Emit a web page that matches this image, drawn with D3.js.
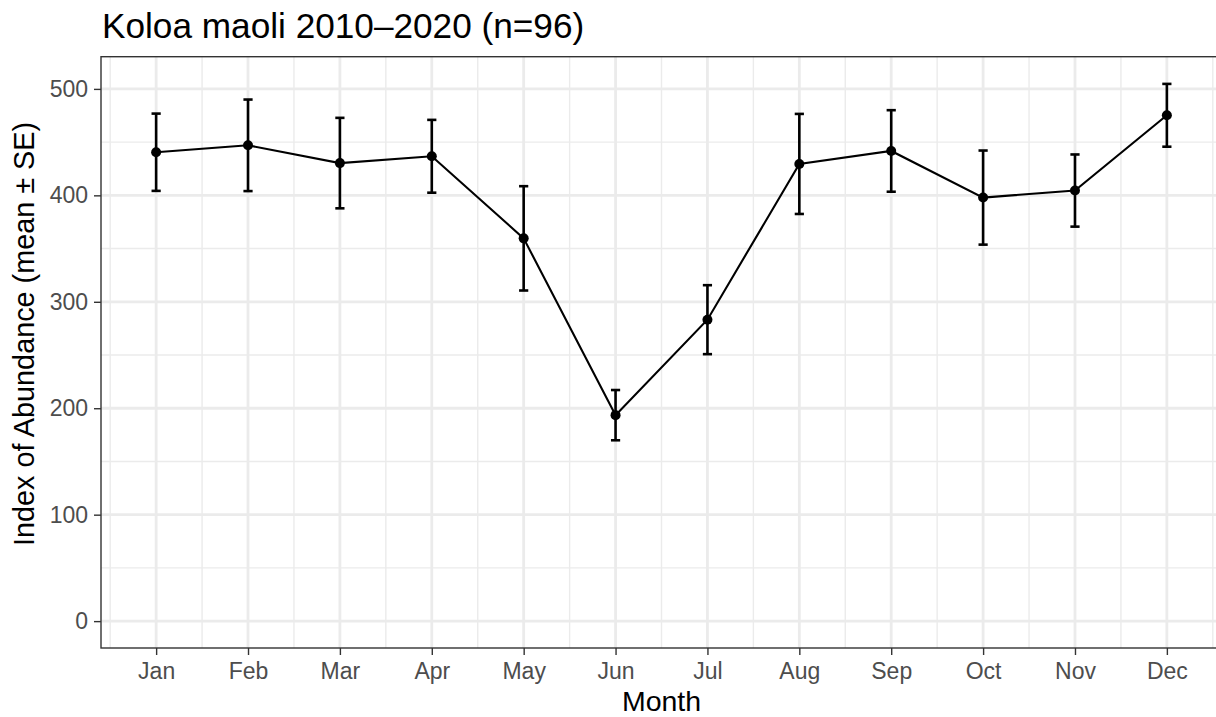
<!DOCTYPE html>
<html lang="en">
  <head>
    <meta charset="UTF-8" />
    <title>Koloa maoli 2010–2020</title>
    <script src="https://d3js.org/d3.v7.min.js"></script>
    <style>
      body { margin: 0; background: #fff; }
      svg { display: block; font-family: "Liberation Sans", Arial, sans-serif; }
    </style>
  </head>
  <body>
    <svg id="chart" width="1216" height="717"></svg>
    <script>
      // Data
      const months = ["Jan", "Feb", "Mar", "Apr", "May", "Jun", "Jul", "Aug", "Sep", "Oct", "Nov", "Dec"];
      const meanValues = [440.5, 447, 430.3, 436.7, 359.6, 193.5, 283.2, 429.5, 441.7, 397.9, 404.5, 475.2];
      const seValues = [36.3, 43, 42.5, 34.2, 49, 23.6, 32.4, 47, 38.3, 44.2, 33.9, 29.5];
      const yTicks = [0, 100, 200, 300, 400, 500];
      const yMinorTicks = [50, 150, 250, 350, 450];

      const svg = d3.select("#chart");

      // panel box (right side runs past the page edge, as in the original)
      const panel = { left: 101, right: 1222, top: 56.7, bottom: 648 };

      const data = months.map((m, i) => ({
        month: m,
        idx: i + 1,
        mean: meanValues[i],
        lo: meanValues[i] - seValues[i],
        hi: meanValues[i] + seValues[i]
      }));

      const x = d3.scaleLinear().domain([0.4, 12.6]).range([panel.left, panel.right]);
      const y = d3.scaleLinear().domain([-25.25, 530.25]).range([panel.bottom, panel.top]);

      const xMinor = d3.range(0.5, 13, 1);

      // background
      svg.append("rect")
        .attr("x", panel.left).attr("y", panel.top)
        .attr("width", panel.right - panel.left).attr("height", panel.bottom - panel.top)
        .attr("fill", "#fff");

      const grid = svg.append("g");
      // minor grid
      grid.selectAll(".ymin").data(yMinorTicks).enter().append("line")
        .attr("x1", panel.left).attr("x2", panel.right)
        .attr("y1", d => y(d)).attr("y2", d => y(d))
        .attr("stroke", "#ebebeb").attr("stroke-width", 1.4);
      grid.selectAll(".xmin").data(xMinor).enter().append("line")
        .attr("y1", panel.top).attr("y2", panel.bottom)
        .attr("x1", d => x(d)).attr("x2", d => x(d))
        .attr("stroke", "#ebebeb").attr("stroke-width", 1.4);
      // major grid
      grid.selectAll(".ymaj").data(yTicks).enter().append("line")
        .attr("x1", panel.left).attr("x2", panel.right)
        .attr("y1", d => y(d)).attr("y2", d => y(d))
        .attr("stroke", "#ebebeb").attr("stroke-width", 2.8);
      grid.selectAll(".xmaj").data(data).enter().append("line")
        .attr("y1", panel.top).attr("y2", panel.bottom)
        .attr("x1", d => x(d.idx)).attr("x2", d => x(d.idx))
        .attr("stroke", "#ebebeb").attr("stroke-width", 2.8);

      // error bars
      const capHalf = 4.6;
      const eb = svg.append("g").attr("stroke", "#000").attr("stroke-width", 2.6);
      eb.selectAll(".v").data(data).enter().append("line")
        .attr("x1", d => x(d.idx)).attr("x2", d => x(d.idx))
        .attr("y1", d => y(d.lo)).attr("y2", d => y(d.hi));
      eb.selectAll(".t").data(data).enter().append("line")
        .attr("x1", d => x(d.idx) - capHalf).attr("x2", d => x(d.idx) + capHalf)
        .attr("y1", d => y(d.hi)).attr("y2", d => y(d.hi));
      eb.selectAll(".b").data(data).enter().append("line")
        .attr("x1", d => x(d.idx) - capHalf).attr("x2", d => x(d.idx) + capHalf)
        .attr("y1", d => y(d.lo)).attr("y2", d => y(d.lo));

      // mean line
      svg.append("path")
        .datum(data)
        .attr("fill", "none")
        .attr("stroke", "#000")
        .attr("stroke-width", 2.1)
        .attr("d", d3.line().x(d => x(d.idx)).y(d => y(d.mean)));

      // points
      svg.selectAll(".pt").data(data).enter().append("circle")
        .attr("cx", d => x(d.idx)).attr("cy", d => y(d.mean))
        .attr("r", 5).attr("fill", "#000");

      // panel border
      svg.append("rect")
        .attr("x", panel.left).attr("y", panel.top)
        .attr("width", panel.right - panel.left).attr("height", panel.bottom - panel.top)
        .attr("fill", "none").attr("stroke", "#333").attr("stroke-width", 1.4);

      // x axis
      const xAxis = svg.append("g")
        .attr("transform", `translate(0,${panel.bottom})`)
        .call(d3.axisBottom(x).tickValues(data.map(d => d.idx))
          .tickFormat(d => months[d - 1]).tickSize(7).tickPadding(8));
      xAxis.select(".domain").remove();
      xAxis.selectAll(".tick line").attr("stroke", "#333").attr("stroke-width", 1.4);
      xAxis.selectAll(".tick text").attr("fill", "#4d4d4d")
        .style("font-size", "23px").style("font-family", "Liberation Sans, Arial, sans-serif");

      // y axis
      const yAxis = svg.append("g")
        .attr("transform", `translate(${panel.left},0)`)
        .call(d3.axisLeft(y).tickValues(yTicks).tickSize(7).tickPadding(6));
      yAxis.select(".domain").remove();
      yAxis.selectAll(".tick line").attr("stroke", "#333").attr("stroke-width", 1.4);
      yAxis.selectAll(".tick text").attr("fill", "#4d4d4d")
        .style("font-size", "23px").style("font-family", "Liberation Sans, Arial, sans-serif");

      // axis titles
      svg.append("text")
        .attr("x", (panel.left + panel.right) / 2)
        .attr("y", 711)
        .attr("text-anchor", "middle")
        .style("font-size", "28.5px")
        .attr("fill", "#000")
        .text("Month");

      svg.append("text")
        .attr("transform", "translate(34,334) rotate(-90)")
        .attr("text-anchor", "middle")
        .style("font-size", "28.8px")
        .attr("fill", "#000")
        .text("Index of Abundance (mean ± SE)");

      // title
      svg.append("text")
        .attr("x", 102)
        .attr("y", 38)
        .style("font-size", "35.2px")
        .attr("fill", "#000")
        .text("Koloa maoli 2010–2020 (n=96)");
    </script>
  </body>
</html>
